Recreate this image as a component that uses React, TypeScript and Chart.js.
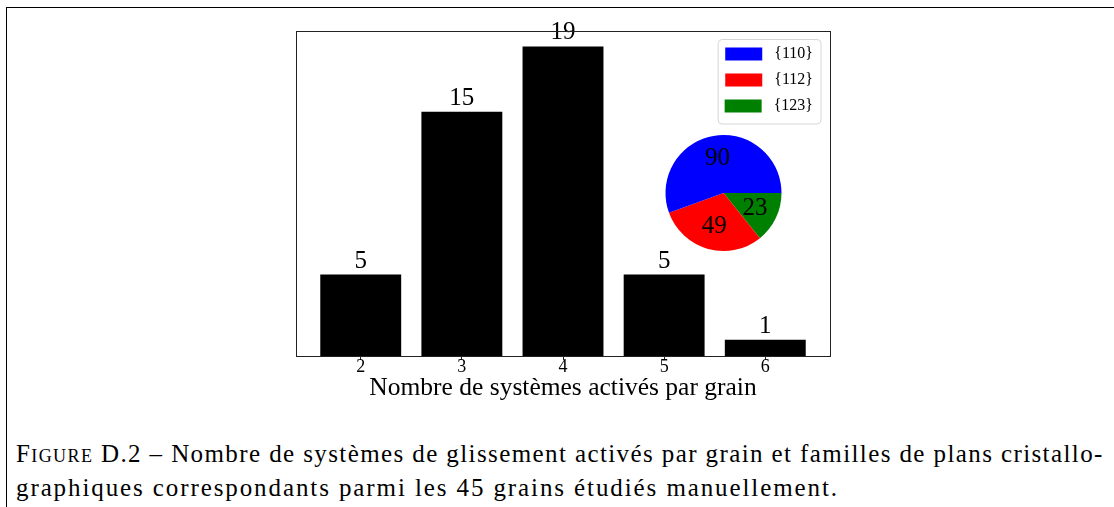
import React, { useEffect, useRef } from 'react';
import { Chart, registerables } from 'chart.js';

Chart.register(...registerables);

// ---- data ----
const systemsPerGrain = [2, 3, 4, 5, 6];
const grainCounts = [5, 15, 19, 5, 1];
const xTickValues = [2, 3, 4, 5, 6];
const xAxisTitle = 'Nombre de systèmes activés par grain';

const planeFamilies = ['{110}', '{112}', '{123}'];
const planeCounts = [90, 49, 23];
const planeColors = ['#0000ff', '#ff0000', '#008000'];

const captionLine1 = ' D.2 – Nombre de systèmes de glissement activés par grain et familles de plans cristallo-';
const captionLine2 = 'graphiques correspondants parmi les 45 grains étudiés manuellement.';

const FONT = "'Liberation Serif', 'Times New Roman', serif";

const barValueLabels = {
  id: 'barValueLabels',
  afterDatasetsDraw(chart: any) {
    const ctx = chart.ctx;
    const meta = chart.getDatasetMeta(0);
    ctx.save();
    ctx.font = `25px ${FONT}`;
    ctx.fillStyle = '#000';
    ctx.textAlign = 'center';
    ctx.textBaseline = 'alphabetic';
    meta.data.forEach((el: any, i: number) => {
      ctx.fillText(String(grainCounts[i]), el.x, el.y - 7);
    });
    ctx.restore();
  },
};

const axesFrame = {
  id: 'axesFrame',
  afterDraw(chart: any) {
    const { left, top, right, bottom } = chart.chartArea;
    const ctx = chart.ctx;
    ctx.save();
    ctx.strokeStyle = '#222';
    ctx.lineWidth = 1;
    ctx.strokeRect(Math.round(left) + 0.5, Math.round(top) + 0.5, Math.round(right - left), Math.round(bottom - top));
    ctx.restore();
  },
};

const legendFrame = {
  id: 'legendFrame',
  beforeDraw(chart: any) {
    const lg = chart.legend;
    if (!lg || !lg.legendHitBoxes || !lg.legendHitBoxes.length) return;
    const hb = lg.legendHitBoxes;
    const l = Math.min(...hb.map((h: any) => h.left)) - 6.5;
    const r = lg.right - 2;
    const t = lg.top + 3.5;
    const b = lg.bottom;
    const ctx = chart.ctx;
    ctx.save();
    ctx.beginPath();
    const rad = 4;
    ctx.moveTo(l + rad, t);
    ctx.arcTo(r, t, r, b, rad);
    ctx.arcTo(r, b, l, b, rad);
    ctx.arcTo(l, b, l, t, rad);
    ctx.arcTo(l, t, r, t, rad);
    ctx.closePath();
    ctx.fillStyle = 'rgba(255,255,255,0.8)';
    ctx.fill();
    ctx.strokeStyle = '#d6d6d6';
    ctx.lineWidth = 1;
    ctx.stroke();
    ctx.restore();
  },
};

const pieValueLabels = {
  id: 'pieValueLabels',
  afterDatasetsDraw(chart: any) {
    const ctx = chart.ctx;
    const meta = chart.getDatasetMeta(0);
    const values = chart.data.datasets[0].data;
    ctx.save();
    ctx.font = `25px ${FONT}`;
    ctx.fillStyle = '#000';
    ctx.textAlign = 'center';
    ctx.textBaseline = 'middle';
    meta.data.forEach((arc: any, i: number) => {
      const p = arc.getProps(['x', 'y', 'startAngle', 'endAngle', 'outerRadius'], true);
      const mid = (p.startAngle + p.endAngle) / 2;
      const r = p.outerRadius * 0.6;
      ctx.fillText(String(values[i]), p.x + Math.cos(mid) * r, p.y + Math.sin(mid) * r);
    });
    ctx.restore();
  },
};

export default function App() {
  const barRef = useRef<HTMLCanvasElement | null>(null);
  const pieRef = useRef<HTMLCanvasElement | null>(null);

  useEffect(() => {
    const bar = new Chart(barRef.current as HTMLCanvasElement, {
      type: 'bar',
      data: {
        datasets: [
          {
            data: systemsPerGrain.map((x, i) => ({ x, y: grainCounts[i] })),
            backgroundColor: '#000',
            borderWidth: 0,
            barPercentage: 0.8,
            categoryPercentage: 1.0,
          },
        ],
      },
      options: {
        animation: false,
        responsive: false,
        events: [],
        layout: { padding: { left: 46, right: 60, top: 31, bottom: 16 } },
        plugins: { legend: { display: false }, tooltip: { enabled: false } },
        scales: {
          x: {
            type: 'linear',
            offset: false,
            min: 1.36,
            max: 6.64,
            afterBuildTicks: (axis: any) => {
              axis.ticks = xTickValues.map((v) => ({ value: v }));
            },
            afterFit: (axis: any) => {
              axis.height = 48;
            },
            grid: { display: true, offset: false, drawOnChartArea: false, drawTicks: true, tickLength: 4, color: '#222' },
            border: { display: false },
            ticks: { font: { family: FONT, size: 18 }, color: '#000', padding: -4, maxRotation: 0, autoSkip: false },
            title: { display: true, text: xAxisTitle, font: { family: FONT, size: 25.5 }, color: '#000', padding: 0 },
          },
          y: { display: false, min: 0, max: 19.95 },
        },
      } as any,
      plugins: [barValueLabels, axesFrame],
    });

    const pie = new Chart(pieRef.current as HTMLCanvasElement, {
      type: 'pie',
      data: {
        labels: planeFamilies.slice().reverse().map((l) => ' ' + l),
        datasets: [
          {
            data: planeCounts.slice().reverse(),
            backgroundColor: planeColors.slice().reverse(),
            borderWidth: 0,
            radius: 58,
          },
        ],
      },
      options: {
        animation: false,
        responsive: false,
        events: [],
        rotation: 90,
        plugins: {
          legend: {
            position: 'top',
            align: 'end',
            reverse: true,
            labels: { boxWidth: 37, boxHeight: 13, padding: 10, color: '#000', font: { family: FONT, size: 16 } },
          },
          tooltip: { enabled: false },
        },
      } as any,
      plugins: [legendFrame, pieValueLabels],
    });

    return () => {
      bar.destroy();
      pie.destroy();
    };
  }, []);

  return (
    <div style={{ position: 'absolute', left: 0, top: 0, width: 1114, height: 507, background: '#fff', overflow: 'hidden' }}>
      <div style={{ position: 'absolute', left: 6, top: 7, width: 1200, height: 600, borderTop: '1px solid #000', borderLeft: '1px solid #000' }} />
      <canvas ref={barRef} width={640} height={420} style={{ position: 'absolute', left: 250, top: 0, display: 'block' }} />
      <canvas ref={pieRef} width={199} height={226} style={{ position: 'absolute', left: 624, top: 36, display: 'block' }} />
      <div style={{ position: 'absolute', left: 16, top: 437, fontFamily: FONT, fontSize: 25, lineHeight: '34px', color: '#000', whiteSpace: 'nowrap' }}>
        <div style={{ letterSpacing: '1.4px' }}>
          <span style={{ fontVariant: 'small-caps' }}>Figure</span>
          {captionLine1}
        </div>
        <div style={{ letterSpacing: '1.9px' }}>{captionLine2}</div>
      </div>
    </div>
  );
}
